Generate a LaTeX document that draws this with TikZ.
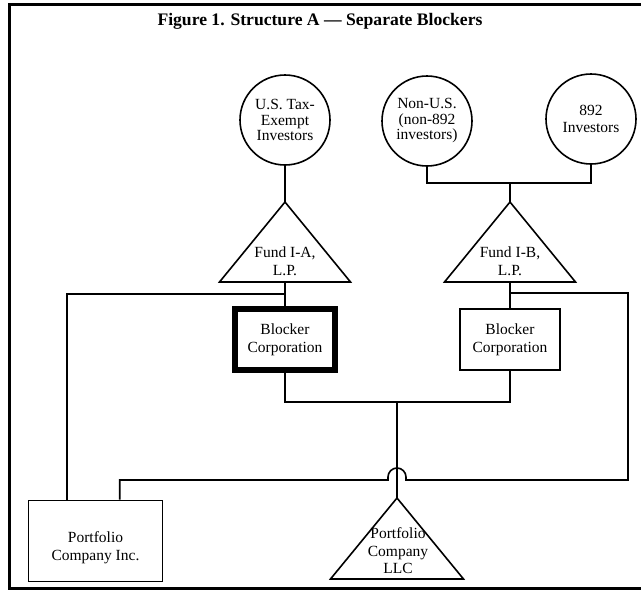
\documentclass[tikz,border=0pt]{standalone}
\usepackage{fontspec}
\setmainfont{Liberation Serif}
\usetikzlibrary{calc}
\begin{document}
\begin{tikzpicture}[x=1pt,y=-1pt,line width=1.6pt,
  txt/.style={align=center,inner sep=0pt,font=\fontsize{15.5}{18}\selectfont},
  inv/.style={txt,draw,circle,minimum size=90pt,font=\fontsize{15.5}{15.5}\selectfont},
  blk/.style={txt,draw,rectangle,minimum width=100pt,minimum height=61pt}]
\tikzstyle{tri}=[line join=miter]
\useasboundingbox (0,0) rectangle (641,592);
\draw[line width=3pt] (646,4) -| (9,588) -- (646,588);
\node (title) at (320,21) {\fontsize{17.6}{20}\selectfont\bfseries Figure 1. Structure A --- Separate Blockers};
\node[inv] (ute) at (285,120) {U.S. Tax-\\Exempt\\Investors};
\node[inv] (nonus) at (427,121) {Non-U.S.\\(non-892\\investors)};
\node[inv,font=\fontsize{15.5}{17}\selectfont] (i892) at (591,119) {892\\Investors};
\coordinate (fiaTop) at (285,202);
\coordinate (fibTop) at (510,202);
\coordinate (llcTop) at (397,498);
\draw[tri] (fiaTop) -- ++(-65.5,80) -- ++(131,0) -- cycle;
\draw[tri] (fibTop) -- ++(-65.5,80) -- ++(131,0) -- cycle;
\draw[tri] (llcTop) -- ++(-66.5,81) -- ++(133,0) -- cycle;
\node[txt] (fia) at (285,261) {Fund I-A,\\L.P.};
\node[txt] (fib) at (510,261) {Fund I-B,\\L.P.};
\node[txt,font=\fontsize{15.5}{17.5}\selectfont] (llc) at (398,551) {Portfolio\\Company\\LLC};
\node[blk,line width=6pt] (blkA) at (285,339.5) {Blocker\\Corporation};
\node[blk] (blkB) at (510,339.5) {Blocker\\Corporation};
\node[blk,minimum width=134pt,minimum height=81pt] (pci) at (95.5,541) {\rule{0pt}{24pt}Portfolio\\Company Inc.};
\coordinate (fibBar) at (510,183);
\coordinate (aJoin) at (285,294);
\coordinate (bJoin) at (510,293);
\coordinate (llcJoin) at (397,402);
\coordinate (hop) at (397,480);
\coordinate (rtEdge) at (628,480);
\draw (ute) -- (fiaTop);
\draw (nonus.south) |- (fibBar) -| (i892.south);
\draw (fibBar) -- (fibTop);
\draw (fiaTop) ++(0,80) -- (blkA.north);
\draw (fibTop) ++(0,80) -- (blkB.north);
\draw (aJoin) -| ([xshift=39pt]pci.north west);
\draw (blkA.south) |- (llcJoin) -| (blkB.south);
\draw (llcJoin) -- (llcTop);
\draw ([xshift=92pt]pci.north west) |- ([xshift=-9pt]hop) -- ++(0,-3)
  arc[start angle=180,end angle=360,radius=9] -- ++(0,3) -- (rtEdge) |- (bJoin);
\end{tikzpicture}
\end{document}
